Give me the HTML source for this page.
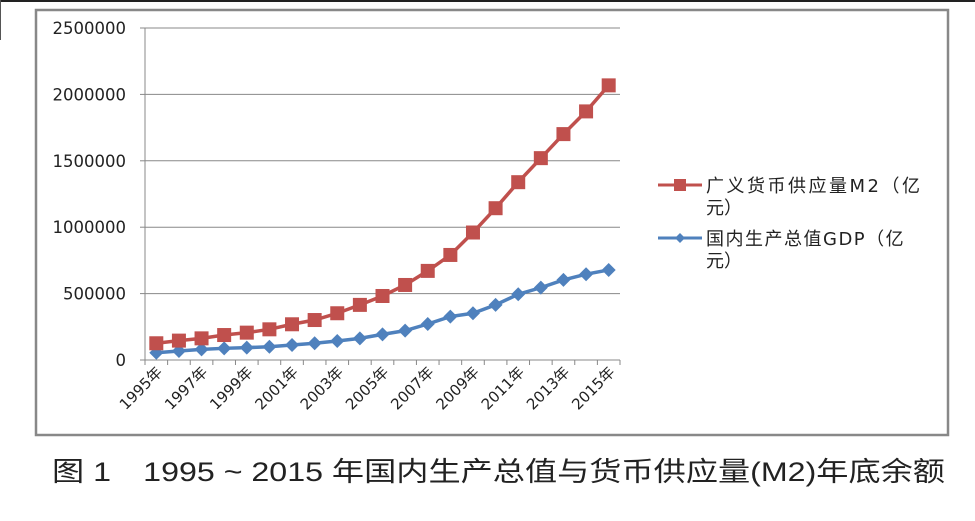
<!DOCTYPE html>
<html><head><meta charset="utf-8"><style>
html,body{margin:0;padding:0;background:#fff;}
svg{display:block;font-family:"Liberation Sans","Noto Sans CJK SC",sans-serif;}
</style></head><body>
<svg id="chart" width="975" height="521" viewBox="0 0 975 521">
<line x1="0" y1="1" x2="975" y2="1" stroke="#222" stroke-width="2"/>
<line x1="0.5" y1="0" x2="0.5" y2="40" stroke="#555" stroke-width="1"/>
<rect x="36" y="10" width="912" height="425" fill="#fff" stroke="#888" stroke-width="2.5"/>
<g id="grid"></g>
<g id="yaxis"></g>
<g id="xaxis"></g>
<g id="series"></g>
<g font-family="'DejaVu Sans','Noto Sans CJK SC',sans-serif">
  <g>
    <line x1="658" y1="185" x2="702" y2="185" stroke="#c0504d" stroke-width="3"/>
    <rect x="674" y="179" width="12" height="12" fill="#c0504d"/>
    <text x="706" y="192" font-size="18" letter-spacing="2.5" fill="#222">广义货币供应量M2（亿</text>
    <text x="706" y="214" font-size="18" fill="#222">元）</text>
  </g>
  <g>
    <line x1="658" y1="238" x2="702" y2="238" stroke="#4f81bd" stroke-width="3"/>
    <path d="M680,233 L685,238 L680,243 L675,238 Z" fill="#4f81bd"/>
    <text x="706" y="245" font-size="18" letter-spacing="1.5" fill="#222">国内生产总值GDP（亿</text>
    <text x="706" y="267" font-size="18" fill="#222">元）</text>
  </g>
</g>
<text x="52" y="481" font-size="27" fill="#222" textLength="893" lengthAdjust="spacingAndGlyphs">图 1　1995 ~ 2015 年国内生产总值与货币供应量(M2)年底余额</text>
</svg>
<script>
const years = ["1995年","1996年","1997年","1998年","1999年","2000年","2001年","2002年","2003年","2004年","2005年","2006年","2007年","2008年","2009年","2010年","2011年","2012年","2013年","2014年","2015年"];
const m2Values = [126000,146000,163000,188000,206000,231000,269000,301000,352000,415000,482000,565000,671000,791000,960000,1143000,1339000,1520000,1701000,1872000,2068000];
const gdpValues = [55000,68000,80000,88000,93000,100000,113000,126000,143000,163000,193000,221000,271000,327000,352000,415000,495000,545000,603000,646000,678000];
const yTicks = [0,500000,1000000,1500000,2000000,2500000];
const yTickLabels = ["0","500000","1000000","1500000","2000000","2500000"];
const xLabelEvery = 2;

const NS="http://www.w3.org/2000/svg";
const L=145,R=620,T=28,B=360,yMax=2500000;
const band=(R-L)/years.length;
const xs=i=>L+band*(i+0.5);
const ys=v=>B-(v/yMax)*(B-T);
const AXF="'DejaVu Sans','Noto Sans CJK SC',sans-serif";
function mk(tag,attrs,parent){const e=document.createElementNS(NS,tag);for(const k in attrs)e.setAttribute(k,attrs[k]);parent.appendChild(e);return e;}
const grid=document.getElementById('grid'),yaxis=document.getElementById('yaxis'),xaxis=document.getElementById('xaxis'),series=document.getElementById('series');
yTicks.forEach((v,i)=>{
  const y=ys(v);
  if(v>0){const g=mk('line',{x1:L,x2:R,y1:y,y2:y,stroke:'#888','stroke-width':1},grid);
    
    }
  const tk=mk('line',{x1:L-5,x2:L,y1:y,y2:y,stroke:'#888'},yaxis);
  
  
  const t=mk('text',{x:126,y:y+6,'text-anchor':'end','font-size':16.5,'font-family':AXF,fill:'#222'},yaxis);
  t.textContent=yTickLabels[i];
  
  
});
const ax=mk('line',{x1:L,x2:L,y1:T,y2:B,stroke:'#888'},yaxis);


const xl=mk('line',{x1:L,x2:R,y1:B,y2:B,stroke:'#888'},xaxis);


for(let i=0;i<=years.length;i++){
  const x=L+band*i;
  const tk=mk('line',{x1:x,x2:x,y1:B,y2:B+5,stroke:'#888'},xaxis);
  
  
}
years.forEach((yr,i)=>{
  if(i%xLabelEvery) return;
  const x=xs(i)+7,y=B+13;
  const t=mk('text',{x:x,y:y,'text-anchor':'end','font-size':15,'font-family':AXF,fill:'#222',transform:`rotate(-45 ${x} ${y})`},xaxis);
  t.textContent=yr;
  
  
});
function drawLine(vals,color,name){
  const g=mk('g',{},series);
  
  
  const p=mk('polyline',{points:vals.map((v,i)=>xs(i)+','+ys(v)).join(' '),fill:'none',stroke:color,'stroke-width':3.5},g);
  
  
  return g;
}
const gG=drawLine(gdpValues,'#4f81bd','gdp-series');
gdpValues.forEach((v,i)=>{
  const x=xs(i),y=ys(v);
  const d=mk('path',{d:`M${x},${y-7} L${x+7},${y} L${x},${y+7} L${x-7},${y} Z`,fill:'#4f81bd'},gG);
  
  
});
const gM=drawLine(m2Values,'#c0504d','m2-series');
m2Values.forEach((v,i)=>{
  const x=xs(i),y=ys(v);
  const r=mk('rect',{x:x-7,y:y-7,width:14,height:14,fill:'#c0504d'},gM);
  
  
});
</script>
</body></html>
